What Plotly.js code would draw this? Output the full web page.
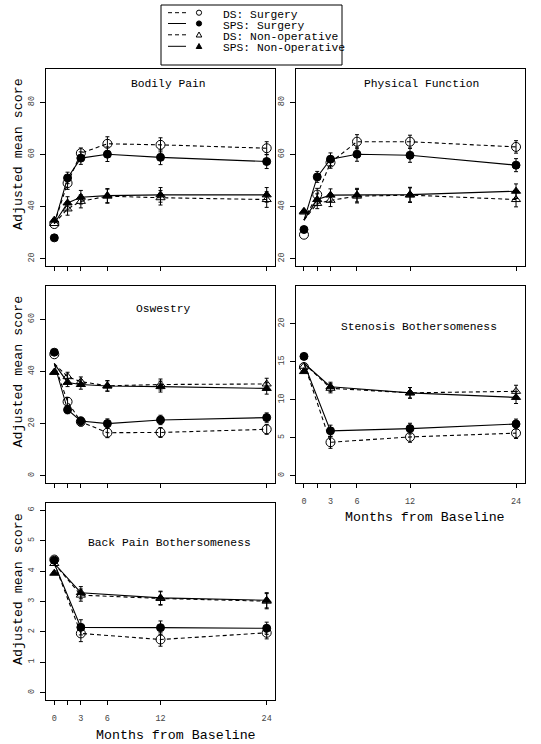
<!DOCTYPE html>
<html><head><meta charset="utf-8">
<script src="https://cdn.plot.ly/plotly-3.0.1.min.js"></script>
<style>html,body{margin:0;padding:0;background:#fff}</style>
</head><body><div id="chart" style="width:541px;height:744px"></div>
<script>
// ---------------- data ----------------
const months = [0, 1.5, 3, 6, 12, 24];
const monthsShort = [0, 3, 12, 24];
const tickVals = [0, 1.5, 3, 6, 12, 24];
const tickText = ['0', '', '3', '6', '12', '24'];
const seriesNames = ['DS: Surgery', 'SPS: Surgery', 'DS: Non-operative', 'SPS: Non-Operative'];
const panelTitles = ['Bodily Pain', 'Physical Function', 'Oswestry', 'Stenosis Bothersomeness', 'Back Pain Bothersomeness'];
const yTitle = 'Adjusted mean score';
const xTitle = 'Months from Baseline';

// Bodily Pain
const bpStart = 33.5;
const bpDSSurg = [33.3, 49.0, 60.5, 64.1, 63.7, 62.4];
const bpDSSurgErr = [NaN, 2.4, 2.0, 2.7, 2.7, 2.5];
const bpSPSSurg = [28.0, 51.0, 58.6, 60.1, 58.9, 57.3];
const bpSPSSurgErr = [NaN, 2.2, 2.4, 2.8, 2.8, 2.7];
const bpDSNon = [33.5, 39.1, 42.0, 44.0, 43.4, 42.7];
const bpDSNonErr = [NaN, 2.4, 2.5, 2.7, 2.8, 3.0];
const bpSPSNon = [34.8, 41.4, 43.6, 44.2, 44.5, 44.5];
const bpSPSNonErr = [NaN, 2.4, 2.6, 2.7, 2.8, 2.8];

// Physical Function
const pfStart = 34.8;
const pfDSSurg = [29.2, 44.6, 56.9, 64.9, 64.9, 62.9];
const pfDSSurgErr = [NaN, 2.4, 2.2, 2.7, 2.5, 2.4];
const pfSPSSurg = [31.2, 51.4, 58.2, 60.1, 59.7, 55.9];
const pfSPSSurgErr = [NaN, 2.1, 2.4, 2.7, 2.7, 2.5];
const pfDSNon = [37.9, 41.2, 42.4, 44.0, 44.4, 42.7];
const pfDSNonErr = [NaN, 2.0, 2.4, 2.6, 2.8, 2.8];
const pfSPSNon = [38.2, 42.7, 44.4, 44.4, 44.6, 45.9];
const pfSPSNonErr = [NaN, 2.2, 2.4, 2.6, 2.8, 2.8];

// Oswestry
const odStart = 43.0;
const odDSSurg = [46.6, 28.4, 20.7, 16.5, 16.6, 17.8];
const odDSSurgErr = [NaN, 1.6, 1.6, 1.9, 1.9, 1.9];
const odSPSSurg = [47.4, 25.3, 21.0, 20.0, 21.4, 22.3];
const odSPSSurgErr = [NaN, 1.5, 1.5, 1.8, 1.8, 1.8];
const odDSNon = [39.7, 38.0, 36.1, 34.5, 35.0, 35.2];
const odDSNonErr = [NaN, 1.7, 1.8, 2.0, 2.1, 2.2];
const odSPSNon = [39.7, 35.8, 35.0, 34.4, 34.2, 33.5];
const odSPSNonErr = [NaN, 1.6, 1.8, 2.0, 2.1, 2.2];

// Stenosis Bothersomeness
const sbStart = 14.8;
const sbDSSurg = [14.3, 4.4, 5.1, 5.6];
const sbDSSurgErr = [NaN, 0.8, 0.7, 0.7];
const sbSPSSurg = [15.7, 5.9, 6.2, 6.8];
const sbSPSSurgErr = [NaN, 0.75, 0.7, 0.65];
const sbDSNon = [14.4, 11.5, 10.9, 11.1];
const sbDSNonErr = [NaN, 0.6, 0.7, 0.8];
const sbSPSNon = [13.7, 11.7, 10.9, 10.3];
const sbSPSNonErr = [NaN, 0.6, 0.7, 0.8];

// Back Pain Bothersomeness
const lbStart = 4.25;
const lbDSSurg = [4.38, 1.95, 1.75, 1.97];
const lbDSSurgErr = [NaN, 0.27, 0.22, 0.2];
const lbSPSSurg = [4.36, 2.15, 2.14, 2.12];
const lbSPSSurgErr = [NaN, 0.25, 0.22, 0.2];
const lbDSNon = [4.25, 3.21, 3.10, 3.01];
const lbDSNonErr = [NaN, 0.2, 0.22, 0.25];
const lbSPSNon = [3.93, 3.29, 3.12, 3.04];
const lbSPSNonErr = [NaN, 0.2, 0.22, 0.25];

// ---------------- layout helpers ----------------
const W = 541, H = 744;
const FONT = '"Liberation Mono", "Courier New", monospace';
const px = v => v / W;
const py = v => 1 - v / H;
const xd = (a, b) => [a / W, b / W];
const yd = (top, bot) => [1 - bot / H, 1 - top / H];

const styles = [
  {dash: '4px,3px', symbol: 'circle-open', size: 9},
  {dash: 'solid', symbol: 'circle', size: 8},
  {dash: '4px,3px', symbol: 'triangle-up-open', size: 8},
  {dash: 'solid', symbol: 'triangle-up', size: 8}
];

const panels = [
  {xa: 'x', ya: 'y', x: months, start: bpStart, series: [bpDSSurg, bpSPSSurg, bpDSNon, bpSPSNon], errs: [bpDSSurgErr, bpSPSSurgErr, bpDSNonErr, bpSPSNonErr]},
  {xa: 'x2', ya: 'y2', x: months, start: pfStart, series: [pfDSSurg, pfSPSSurg, pfDSNon, pfSPSNon], errs: [pfDSSurgErr, pfSPSSurgErr, pfDSNonErr, pfSPSNonErr]},
  {xa: 'x3', ya: 'y3', x: months, start: odStart, series: [odDSSurg, odSPSSurg, odDSNon, odSPSNon], errs: [odDSSurgErr, odSPSSurgErr, odDSNonErr, odSPSNonErr]},
  {xa: 'x4', ya: 'y4', x: monthsShort, start: sbStart, series: [sbDSSurg, sbSPSSurg, sbDSNon, sbSPSNon], errs: [sbDSSurgErr, sbSPSSurgErr, sbDSNonErr, sbSPSNonErr]},
  {xa: 'x5', ya: 'y5', x: monthsShort, start: lbStart, series: [lbDSSurg, lbSPSSurg, lbDSNon, lbSPSNon], errs: [lbDSSurgErr, lbSPSSurgErr, lbDSNonErr, lbSPSNonErr]}
];

const traces = [];
panels.forEach(p => {
  p.series.forEach((s, i) => {
    traces.push({
      type: 'scatter', mode: 'lines', xaxis: p.xa, yaxis: p.ya,
      x: p.x, y: [p.start].concat(s.slice(1)),
      line: {color: '#000', width: 1.1, dash: styles[i].dash},
      name: seriesNames[i], showlegend: false, hoverinfo: 'skip'
    });
  });
  p.series.forEach((s, i) => {
    traces.push({
      type: 'scatter', mode: 'markers', xaxis: p.xa, yaxis: p.ya,
      x: p.x, y: s,
      marker: {symbol: styles[i].symbol, size: styles[i].size, color: '#000', line: {color: '#000', width: 1}},
      error_y: {type: 'data', array: p.errs[i], symmetric: true, thickness: 1, width: 2, color: '#000'},
      name: seriesNames[i], showlegend: false
    });
  });
});

const tickFont = {family: FONT, size: 8.5, color: '#444'};
function xAx(dom, anchor, labels) {
  return {domain: dom, anchor: anchor, range: [-0.96, 24.96], tickmode: 'array', tickvals: tickVals, ticktext: tickText,
    showticklabels: labels, ticks: 'outside', ticklen: 4, tickwidth: 1, tickcolor: '#000',
    showline: true, mirror: true, linecolor: '#000', linewidth: 1, showgrid: false, zeroline: false,
    tickfont: tickFont, ticklabelstandoff: 6, fixedrange: true};
}
function yAx(dom, anchor, range, vals) {
  return {domain: dom, anchor: anchor, range: range, tickmode: 'array', tickvals: vals, tickangle: -90,
    ticks: 'outside', ticklen: 5, tickwidth: 1, tickcolor: '#000',
    showline: true, mirror: true, linecolor: '#000', linewidth: 1, showgrid: false, zeroline: false,
    tickfont: tickFont, ticklabelstandoff: 2, fixedrange: true};
}

const colL = [45.8, 275.2], colR = [295.5, 524.5];
const row1 = [69, 266], row2 = [286, 483], row3 = [503, 700];

const annotations = [];
function ann(text, x, y, size, angle, xanchor) {
  annotations.push({text: text, x: px(x), y: py(y), xref: 'paper', yref: 'paper', showarrow: false,
    xanchor: xanchor || 'center', yanchor: 'middle', textangle: angle || 0,
    font: {family: FONT, size: size, color: '#000'}});
}
ann(panelTitles[0], 168.5, 84, 11.3);
ann(panelTitles[1], 421.3, 84, 11.3);
ann(panelTitles[2], 163.3, 309, 11.3);
ann(panelTitles[3], 418.8, 326.7, 11.3);
ann(panelTitles[4], 169.2, 543.3, 11.3);
ann(yTitle, 18, 154, 13.3, -90);
ann(yTitle, 18, 371.5, 13.3, -90);
ann(yTitle, 18, 589, 13.3, -90);
ann(xTitle, 425, 517.7, 13.3);
ann(xTitle, 176, 735, 13.3);

// manual legend (R style)
const shapes = [];
shapes.push({type: 'rect', xref: 'paper', yref: 'paper', x0: px(161), x1: px(342), y0: py(5), y1: py(65),
  line: {color: '#000', width: 1}, fillcolor: 'rgba(0,0,0,0)'});
const legRowsLine = [12.7, 23.5, 34.8, 46.3];
const legRowsText = [14.6, 25.6, 36.8, 48.3];
seriesNames.forEach((nm, i) => {
  const yy = legRowsLine[i];
  shapes.push({type: 'line', xref: 'paper', yref: 'paper', x0: px(168), x1: px(186), y0: py(yy), y1: py(yy),
    line: {color: '#000', width: 1, dash: styles[i].dash}});
  const cx = 199;
  if (i < 2) {
    shapes.push({type: 'circle', xref: 'paper', yref: 'paper', x0: px(cx - 2.6), x1: px(cx + 2.6), y0: py(yy + 2.6), y1: py(yy - 2.6),
      line: {color: '#000', width: 1}, fillcolor: i === 1 ? '#000' : 'rgba(0,0,0,0)'});
  } else {
    const path = 'M ' + px(cx - 2.8) + ',' + py(yy + 2.2) + ' L ' + px(cx + 2.8) + ',' + py(yy + 2.2) + ' L ' + px(cx) + ',' + py(yy - 2.8) + ' Z';
    shapes.push({type: 'path', xref: 'paper', yref: 'paper', path: path,
      line: {color: '#000', width: 1}, fillcolor: i === 3 ? '#000' : 'rgba(0,0,0,0)'});
  }
  ann(nm, 221, legRowsText[i], 11.3, 0, 'left');
});

const layout = {
  width: W, height: H, autosize: false,
  margin: {l: 0, r: 0, t: 0, b: 0, pad: 0},
  paper_bgcolor: '#fff', plot_bgcolor: '#fff',
  showlegend: false,
  font: {family: FONT, color: '#000'},
  xaxis: xAx(xd(colL[0], colL[1]), 'y', false),
  yaxis: yAx(yd(row1[0], row1[1]), 'x', [17.2, 92.8], [20, 40, 60, 80]),
  xaxis2: xAx(xd(colR[0], colR[1]), 'y2', false),
  yaxis2: yAx(yd(row1[0], row1[1]), 'x2', [17.2, 92.8], [20, 40, 60, 80]),
  xaxis3: xAx(xd(colL[0], colL[1]), 'y3', false),
  yaxis3: yAx(yd(row2[0], row2[1]), 'x3', [-2.8, 72.8], [0, 20, 40, 60]),
  xaxis4: xAx(xd(colR[0], colR[1]), 'y4', true),
  yaxis4: yAx(yd(row2[0], row2[1]), 'x4', [-0.96, 24.96], [0, 5, 10, 15, 20]),
  xaxis5: xAx(xd(colL[0], colL[1]), 'y5', true),
  yaxis5: yAx(yd(row3[0], row3[1]), 'x5', [-0.24, 6.24], [0, 1, 2, 3, 4, 5, 6]),
  annotations: annotations,
  shapes: shapes
};

Plotly.newPlot('chart', traces, layout, {displayModeBar: false, staticPlot: true});
</script>
</body></html>
